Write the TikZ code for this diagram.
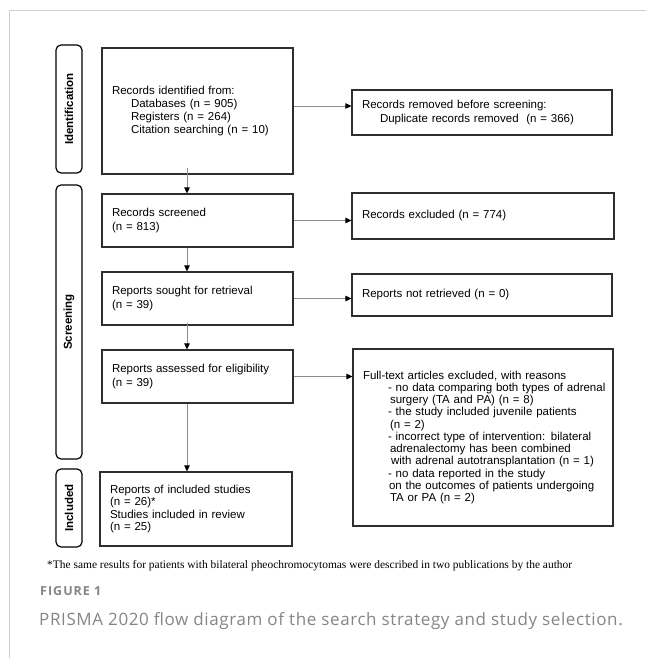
\documentclass[tikz,border=0pt]{standalone}
\usepackage{fontspec}
\setmainfont{Liberation Sans}
\newfontfamily\notefont{Liberation Serif}
\newfontfamily\capfont{Open Sans}
\newfontfamily\figfont[LetterSpace=8]{Open Sans}
\newfontfamily\capwide[LetterSpace=3.6]{Open Sans}
\usetikzlibrary{arrows.meta,calc}
\definecolor{boxline}{HTML}{2E2E2E}
\definecolor{conn}{HTML}{8C8C8C}
\definecolor{capgray}{HTML}{858585}
\definecolor{framegray}{HTML}{CFCFCF}
\tikzset{
  phase/.style={draw=black, line width=1.2pt, rounded corners=5pt, rotate=90,
    minimum height=26pt, inner sep=0pt, font=\fontsize{11.5}{13}\selectfont\bfseries},
  stepbox/.style={draw=boxline, line width=1.1pt, inner xsep=10pt, inner ysep=0pt,
    align=left, font=\fontsize{11.5}{13.1}\selectfont},
  tightbox/.style={stepbox, font=\fontsize{11.5}{12.25}\selectfont},
  flow/.style={draw=conn, line width=0.8pt, -{Triangle[length=6pt,width=5.5pt,color=black,fill=black]}},
}
\begin{document}
\begin{tikzpicture}[x=1pt,y=-1pt]
\useasboundingbox (0,0) rectangle (646,658);
\draw[framegray, line width=1pt] (9,658) -- (9,11) -- (646,11);

% phase labels
\node[phase, minimum width=128pt] (id) at (69,109) {Identification};
\node[phase, minimum width=274pt] (sc) at (69,322) {Screening};
\node[phase, minimum width=78pt] (inc) at (69,508) {Included};

% left column
\node[stepbox, minimum width=191pt, text width=171pt, minimum height=126pt] (b1) at (197.5,111)
  {Records identified from:\\\hspace*{19pt}Databases (n = 905)\\\hspace*{19pt}Registers (n = 264)\\\hspace*{19pt}Citation searching (n = 10)};
\node[stepbox, minimum width=191pt, text width=171pt, minimum height=53pt] (b2) at (197.5,220.5)
  {Records screened\\(n = 813)};
\node[stepbox, minimum width=191pt, text width=171pt, minimum height=53pt] (b3) at (197.5,298.5)
  {Reports sought for retrieval\\(n = 39)};
\node[stepbox, minimum width=191pt, text width=171pt, minimum height=53pt] (b4) at (197.5,376.5)
  {Reports assessed for eligibility\\(n = 39)};
\node[tightbox, minimum width=192pt, text width=172pt, minimum height=74pt] (b5) at (196,509)
  {Reports of included studies\\(n = 26)*\\Studies included in review\\(n = 25)};

% right column
\node[stepbox, minimum width=260pt, text width=240pt, minimum height=45pt] (r1) at (482,112.5)
  {Records removed before screening:\\\hspace*{18pt}Duplicate records removed\ \ (n = 366)};
\node[stepbox, minimum width=262pt, text width=242pt, minimum height=46pt] (r2) at (483,216)
  {Records excluded (n = 774)};
\node[stepbox, minimum width=260pt, text width=240pt, minimum height=42pt] (r3) at (482,295)
  {Reports not retrieved (n = 0)};
\node[tightbox, minimum width=260pt, text width=240pt, minimum height=177pt] (r4) at (483,437.5)
  {\mbox{Full-text articles excluded, with reasons}\\
   \hspace*{25pt}\mbox{- no data comparing both types of adrenal}\\
   \hspace*{27pt}\mbox{surgery (TA and PA) (n = 8)}\\
   \hspace*{25pt}\mbox{- the study included juvenile patients}\\
   \hspace*{27pt}\mbox{(n = 2)}\\
   \hspace*{25pt}\mbox{- incorrect type of intervention: bilateral}\\
   \hspace*{27pt}\mbox{adrenalectomy has been combined}\\
   \hspace*{28pt}\mbox{with adrenal autotransplantation (n = 1)}\\
   \hspace*{25pt}\mbox{- no data reported in the study}\\
   \hspace*{26pt}\mbox{on the outcomes of patients undergoing}\\
   \hspace*{27pt}\mbox{TA or PA (n = 2)}};

% connectors
\draw[flow] ([xshift=-10.5pt,yshift=7pt]b1.south) -- ([xshift=-10.5pt]b2.north);
\draw[flow] ([xshift=-10.5pt]b2.south) -- ([xshift=-10.5pt]b3.north);
\draw[flow] ([xshift=-10.5pt,yshift=3pt]b3.south) -- ([xshift=-10.5pt]b4.north);
\draw[flow] ([xshift=-10.5pt]b4.south) -- ([xshift=-10.5pt]b4.south |- b5.north);
\draw[flow] ([yshift=6.5pt]r1.west -| b1.east) -- ([yshift=6.5pt]r1.west);
\draw[flow] (b2.east) -- (b2.east -| r2.west);
\draw[flow] (b3.east) -- (b3.east -| r3.west);
\draw[flow] (b4.east) -- (b4.east -| r4.west);

% footnote and caption
\node[anchor=west, inner sep=0pt, font=\notefont\fontsize{11.45}{13}\selectfont] (note) at (47,566)
  {*The same results for patients with bilateral pheochromocytomas were described in two publications by the author};
\node[anchor=west, inner sep=0pt, text=capgray, font=\figfont\bfseries\fontsize{12.5}{14}\selectfont] (fig) at (40,591) {FIGURE 1};
\node[anchor=west, inner sep=0pt, text=capgray, font=\capwide\fontsize{17}{20}\selectfont] (cap) at (39,621)
  {PRISMA 2020 flow diagram of the search strategy and study selection.};
\end{tikzpicture}
\end{document}
